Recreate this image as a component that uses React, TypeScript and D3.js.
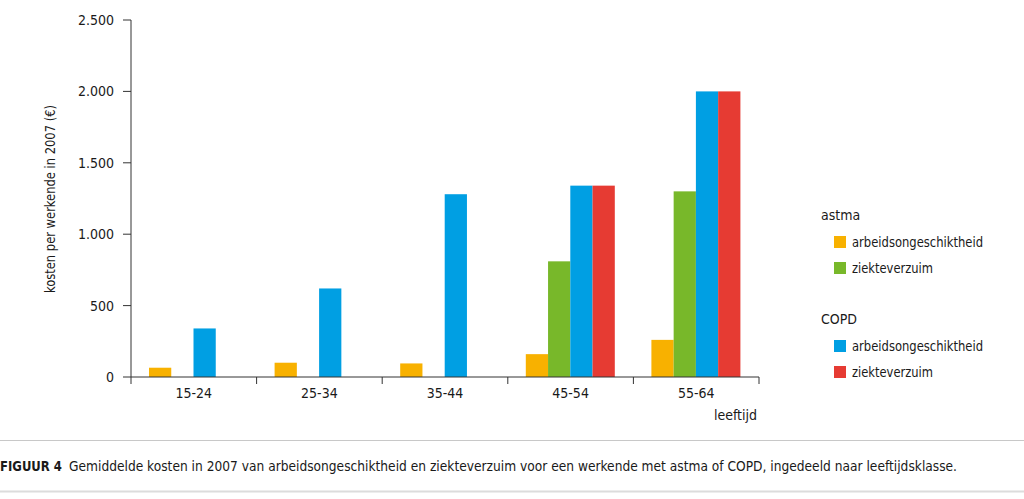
import React, { useEffect, useRef } from "react";
import * as d3 from "d3";

const categories = ["15-24", "25-34", "35-44", "45-54", "55-64"];
const seriesKeys = ["astmaAO", "astmaZV", "copdAO", "copdZV"];
const astmaArbeidsongeschiktheid = [65, 100, 95, 160, 260];
const astmaZiekteverzuim = [0, 0, 0, 810, 1300];
const copdArbeidsongeschiktheid = [340, 620, 1280, 1340, 2000];
const copdZiekteverzuim = [0, 0, 0, 1340, 2000];
const seriesColors = ["#F8B100", "#78B82A", "#009FE3", "#E63B33"];
const yTicks = [0, 500, 1000, 1500, 2000, 2500];
const legendGroups = [
  { title: "astma", items: [["arbeidsongeschiktheid", 0], ["ziekteverzuim", 1]] },
  { title: "COPD", items: [["arbeidsongeschiktheid", 2], ["ziekteverzuim", 3]] },
];

const FONT = "'DejaVu Sans Condensed', 'DejaVu Sans', sans-serif";
const TXT = "#1a1a1a";

export default function App() {
  const ref = useRef<SVGSVGElement>(null);
  useEffect(() => {
    const svg = d3.select(ref.current);
    svg.selectAll("*").remove();
    const values = [astmaArbeidsongeschiktheid, astmaZiekteverzuim, copdArbeidsongeschiktheid, copdZiekteverzuim];
    const x0 = d3.scaleBand().domain(categories).range([131, 759]).paddingInner(0).paddingOuter(0);
    const x1 = d3.scaleBand().domain(seriesKeys).range([18, 18 + 89]);
    const y = d3.scaleLinear().domain([0, 2500]).range([377, 20]);
    const g = svg.append("g");

    categories.forEach((c, i) => {
      seriesKeys.forEach((k, s) => {
        const v = values[s][i];
        if (!v) return;
        g.append("rect")
          .attr("x", x0(c)! + x1(k)!)
          .attr("width", x1.bandwidth())
          .attr("y", y(v))
          .attr("height", y(0) - y(v))
          .attr("fill", seriesColors[s]);
      });
    });

    const axisColor = "#333";
    g.append("line").attr("x1", 131).attr("x2", 131).attr("y1", 20).attr("y2", 377).attr("stroke", axisColor);
    yTicks.forEach((t) => {
      g.append("line").attr("x1", 123).attr("x2", 131).attr("y1", y(t)).attr("y2", y(t)).attr("stroke", axisColor);
      g.append("text").attr("x", 114).attr("y", y(t)).attr("dy", "0.35em").attr("text-anchor", "end")
        .attr("font-family", FONT).attr("font-size", 14).attr("fill", TXT).text(d3.format(",")(t).replace(/,/g, "."));
    });
    g.append("line").attr("x1", 131).attr("x2", 759).attr("y1", 377).attr("y2", 377).attr("stroke", axisColor);
    [...categories.map((c) => x0(c)!), 759].forEach((px) => {
      g.append("line").attr("x1", px).attr("x2", px).attr("y1", 377).attr("y2", 384).attr("stroke", axisColor);
    });
    categories.forEach((c) => {
      g.append("text").attr("x", x0(c)! + x0.bandwidth() / 2).attr("y", 393).attr("dy", "0.35em").attr("text-anchor", "middle")
        .attr("font-family", FONT).attr("font-size", 14).attr("fill", TXT).text(c);
    });
    g.append("text").attr("x", 757).attr("y", 415).attr("dy", "0.35em").attr("text-anchor", "end")
      .attr("font-family", FONT).attr("font-size", 14).attr("fill", TXT).text("leeftijd");
    g.append("text").attr("transform", "translate(50,199) rotate(-90)").attr("dy", "0.35em").attr("text-anchor", "middle")
      .attr("font-family", FONT).attr("font-size", 14).attr("fill", TXT)
      .attr("textLength", 188).attr("lengthAdjust", "spacingAndGlyphs")
      .text("kosten per werkende in 2007 (€)");

    const groupY = [215, 319];
    legendGroups.forEach((grp, gi) => {
      const gy = groupY[gi];
      g.append("text").attr("x", 821).attr("y", gy).attr("dy", "0.35em")
        .attr("font-family", FONT).attr("font-size", 14).attr("fill", TXT).text(grp.title);
      grp.items.forEach(([label, si], ii) => {
        const iy = gy + 27 + ii * 26;
        g.append("rect").attr("x", 834).attr("y", iy - 6).attr("width", 12).attr("height", 12).attr("fill", seriesColors[si as number]);
        g.append("text").attr("x", 852).attr("y", iy).attr("dy", "0.35em")
          .attr("font-family", FONT).attr("font-size", 14).attr("fill", TXT)
          .attr("textLength", label === "ziekteverzuim" ? 81 : 131).attr("lengthAdjust", "spacingAndGlyphs")
          .text(label as string);
      });
    });

    g.append("line").attr("x1", 0).attr("x2", 1024).attr("y1", 440.5).attr("y2", 440.5).attr("stroke", "#c8c8c8");
    g.append("line").attr("x1", 0).attr("x2", 1024).attr("y1", 491.5).attr("y2", 491.5).attr("stroke", "#dcdcdc").attr("stroke-width", 2);
    g.append("text").attr("x", 0).attr("y", 466).attr("dy", "0.35em")
      .attr("font-family", FONT).attr("font-size", 14).attr("font-weight", "bold").attr("fill", TXT)
      .attr("textLength", 62).attr("lengthAdjust", "spacingAndGlyphs").text("FIGUUR 4");
    g.append("text").attr("x", 69).attr("y", 466).attr("dy", "0.35em")
      .attr("font-family", FONT).attr("font-size", 14).attr("fill", TXT)
      .attr("textLength", 888).attr("lengthAdjust", "spacingAndGlyphs")
      .text("Gemiddelde kosten in 2007 van arbeidsongeschiktheid en ziekteverzuim voor een werkende met astma of COPD, ingedeeld naar leeftijdsklasse.");
  }, []);
  return (
    <svg ref={ref} width={1024} height={499} style={{ position: "absolute", left: 0, top: 0, background: "#fff" }} />
  );
}
